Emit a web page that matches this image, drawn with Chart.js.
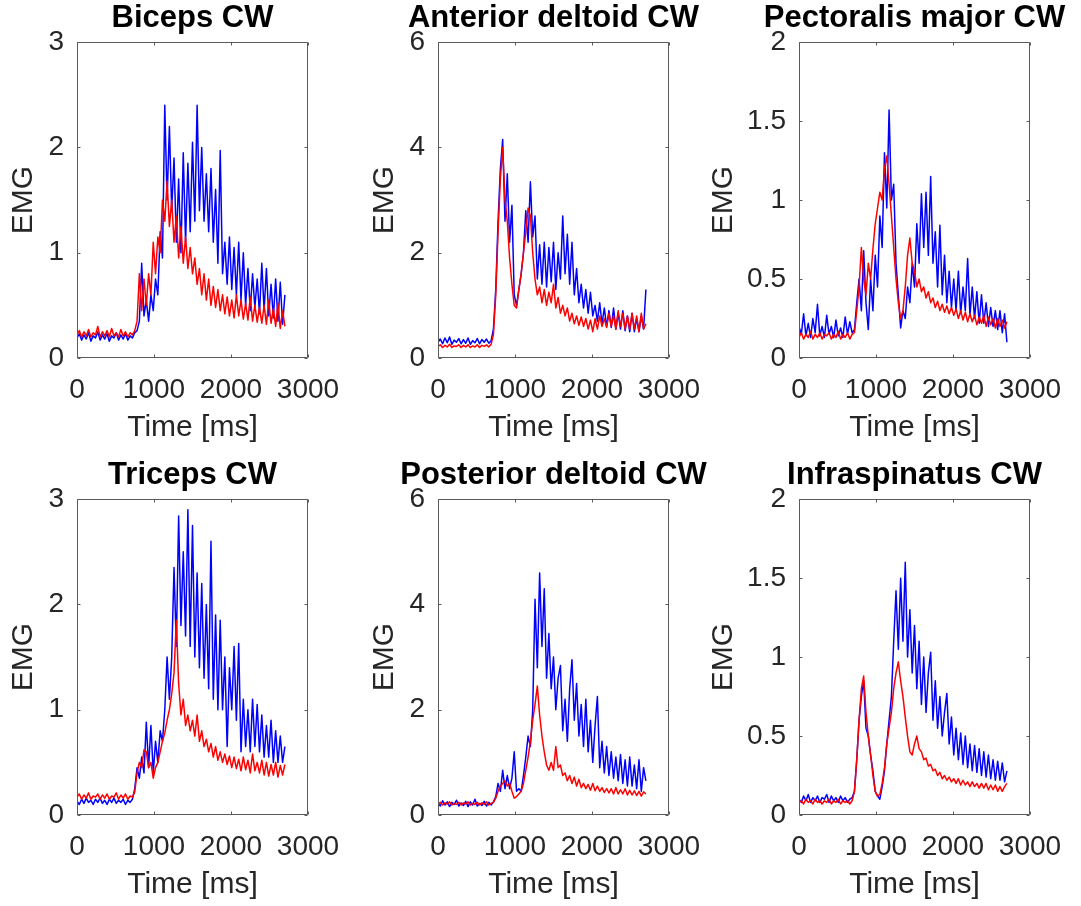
<!DOCTYPE html>
<html>
<head>
<meta charset="utf-8">
<script src="https://cdn.jsdelivr.net/npm/chart.js@4.4.1/dist/chart.umd.min.js"></script>
<style>
html, body { margin: 0; padding: 0; background: #fff; overflow: hidden; width: 1081px; height: 906px; }
canvas { position: absolute; }
</style>
</head>
<body>
<canvas id="emg0" width="385" height="450" style="left:0px;top:0px"></canvas>
<canvas id="emg1" width="385" height="450" style="left:361px;top:0px"></canvas>
<canvas id="emg2" width="429" height="450" style="left:700px;top:0px"></canvas>
<canvas id="emg3" width="385" height="450" style="left:0px;top:457px"></canvas>
<canvas id="emg4" width="385" height="450" style="left:361px;top:457px"></canvas>
<canvas id="emg5" width="429" height="450" style="left:700px;top:457px"></canvas>
<script>
// sample times (ms)
const timeMs = [
    0, 30, 60, 90, 120, 150, 180, 210, 240, 270,
    300, 330, 360, 390, 420, 450, 480, 510, 540, 570,
    600, 630, 660, 690, 720, 750, 780, 810, 840, 870,
    900, 930, 960, 990, 1020, 1050, 1080, 1110, 1140, 1170,
    1200, 1230, 1260, 1290, 1320, 1350, 1380, 1410, 1440, 1470,
    1500, 1530, 1560, 1590, 1620, 1650, 1680, 1710, 1740, 1770,
    1800, 1830, 1860, 1890, 1920, 1950, 1980, 2010, 2040, 2070,
    2100, 2130, 2160, 2190, 2220, 2250, 2280, 2310, 2340, 2370,
    2400, 2430, 2460, 2490, 2520, 2550, 2580, 2610, 2640, 2670,
    2700
];

const bicepsBlue = [
    0.19, 0.23, 0.17, 0.22, 0.18, 0.24, 0.16, 0.21, 0.19, 0.25,
    0.17, 0.22, 0.18, 0.23, 0.16, 0.21, 0.19, 0.24, 0.17, 0.22,
    0.18, 0.23, 0.17, 0.21, 0.19, 0.24, 0.26, 0.35, 0.9, 0.4,
    0.55, 0.35, 0.6, 0.45, 0.75, 0.6, 1.2, 0.95, 2.4, 1.5,
    2.2, 1.4, 1.9, 1.1, 1.7, 1.0, 1.95, 1.1, 1.85, 1.2,
    2.05, 1.3, 2.4, 1.4, 2.0, 1.3, 1.75, 1.2, 1.8, 1.1,
    1.6, 0.9, 1.97, 0.8, 1.1, 0.7, 1.15, 0.65, 1.05, 0.6,
    1.1, 0.55, 1.0, 0.5, 0.85, 0.45, 0.8, 0.48, 0.75, 0.42,
    0.9, 0.45, 0.85, 0.4, 0.7, 0.38, 0.75, 0.35, 0.72, 0.32,
    0.6
];
const bicepsRed = [
    0.22, 0.26, 0.2, 0.25, 0.21, 0.27, 0.2, 0.24, 0.22, 0.3,
    0.2, 0.25, 0.21, 0.26, 0.2, 0.28, 0.21, 0.24, 0.2, 0.27,
    0.21, 0.25, 0.2, 0.24, 0.22, 0.26, 0.35, 0.8, 0.45, 0.75,
    0.5, 0.8, 0.6, 1.1, 0.8, 1.15, 1.0, 1.5, 1.3, 1.68,
    1.25, 1.5, 1.1, 1.35, 0.95, 1.25, 0.9, 1.15, 0.85, 1.05,
    0.8, 0.95, 0.7, 0.85, 0.6, 0.8, 0.55, 0.75, 0.5, 0.68,
    0.48, 0.65, 0.45, 0.6, 0.42, 0.58, 0.4, 0.55, 0.38, 0.6,
    0.4, 0.55, 0.37, 0.52, 0.36, 0.58, 0.35, 0.5, 0.34, 0.48,
    0.33, 0.5, 0.32, 0.55, 0.33, 0.47, 0.3, 0.52, 0.28, 0.45,
    0.3
];

const antDeltoidBlue = [
    0.3, 0.36, 0.27, 0.38, 0.29, 0.4, 0.26, 0.34, 0.3, 0.37,
    0.27, 0.35, 0.28, 0.38, 0.26, 0.33, 0.29, 0.37, 0.27, 0.35,
    0.3, 0.36, 0.28, 0.33, 0.55, 1.3, 2.6, 3.6, 4.15, 2.6,
    3.5, 2.2, 2.9, 1.2, 1.0, 1.3, 1.6, 2.0, 2.8, 2.2,
    3.35, 2.3, 2.7, 1.5, 2.15, 1.4, 2.2, 1.35, 2.1, 1.45,
    2.2, 1.3, 2.0, 1.5, 2.7, 1.6, 2.35, 1.4, 2.2, 1.2,
    1.7, 1.05, 1.4, 0.95, 1.3, 0.85, 1.25, 0.8, 1.0, 0.7,
    1.05, 0.65, 0.95, 0.6, 0.9, 0.58, 0.95, 0.55, 0.85, 0.55,
    0.9, 0.52, 0.8, 0.5, 0.85, 0.5, 0.75, 0.5, 0.8, 0.55,
    1.3
];
const antDeltoidRed = [
    0.22, 0.25, 0.2, 0.24, 0.21, 0.26, 0.2, 0.23, 0.22, 0.25,
    0.2, 0.24, 0.21, 0.25, 0.2, 0.23, 0.21, 0.25, 0.2, 0.24,
    0.22, 0.25, 0.21, 0.26, 0.45, 1.2, 2.4, 3.4, 4.0, 3.0,
    2.6, 1.9, 1.4, 1.0, 0.95, 1.3, 1.6, 2.0, 2.4, 2.85,
    2.7, 2.0, 1.5, 1.2, 1.35, 1.05, 1.3, 1.0, 1.25, 1.05,
    1.4, 0.95, 1.15, 0.85, 1.0, 0.8, 0.95, 0.7, 0.85, 0.65,
    0.8, 0.62, 0.78, 0.6, 0.75, 0.55, 0.72, 0.5, 0.75, 0.55,
    0.8, 0.6, 0.75, 0.58, 0.85, 0.6, 0.8, 0.55, 0.9, 0.6,
    0.85, 0.55, 0.8, 0.55, 0.85, 0.55, 0.8, 0.5, 0.85, 0.55,
    0.65
];

const pectoralisBlue = [
    0.2, 0.15, 0.28, 0.14, 0.22, 0.13, 0.25, 0.16, 0.34, 0.14,
    0.2, 0.13, 0.27, 0.15, 0.2, 0.13, 0.24, 0.14, 0.19, 0.13,
    0.26, 0.15, 0.23, 0.16, 0.18, 0.35, 0.5, 0.3, 0.68, 0.35,
    0.18, 0.5, 0.3, 0.65, 0.45, 0.9, 0.7, 1.3, 0.95, 1.57,
    1.0, 1.1, 0.6, 0.4, 0.19, 0.3, 0.25, 0.45, 0.35, 0.6,
    0.45, 0.85, 0.6, 1.04, 0.7, 1.05, 0.65, 1.15, 0.6, 0.8,
    0.45, 0.84, 0.4, 0.65, 0.35, 0.55, 0.32, 0.5, 0.3, 0.55,
    0.28, 0.45, 0.3, 0.63, 0.27, 0.45, 0.25, 0.42, 0.22, 0.4,
    0.22, 0.35, 0.2, 0.32, 0.2, 0.3, 0.18, 0.3, 0.16, 0.28,
    0.1
];
const pectoralisRed = [
    0.13, 0.16, 0.12, 0.15, 0.13, 0.17, 0.12, 0.15, 0.13, 0.16,
    0.12, 0.15, 0.14, 0.16, 0.12, 0.15, 0.13, 0.17, 0.12, 0.15,
    0.13, 0.16, 0.12, 0.15, 0.16, 0.3, 0.45, 0.7, 0.5, 0.4,
    0.6, 0.5, 0.69, 0.85, 0.95, 1.05, 1.0, 1.2, 1.28, 1.1,
    0.9, 0.7, 0.5, 0.35, 0.25, 0.3, 0.45, 0.65, 0.76, 0.6,
    0.55, 0.45, 0.5, 0.42, 0.45, 0.38, 0.42, 0.35, 0.38, 0.32,
    0.36, 0.3, 0.34, 0.29, 0.33, 0.28, 0.32, 0.27, 0.31, 0.25,
    0.3, 0.24, 0.29, 0.23, 0.28, 0.23, 0.27, 0.21, 0.26, 0.22,
    0.27, 0.2, 0.26, 0.21, 0.25, 0.19, 0.25, 0.2, 0.24, 0.19,
    0.23
];

const tricepsBlue = [
    0.13, 0.1, 0.15, 0.11, 0.16, 0.12, 0.14, 0.1, 0.15, 0.12,
    0.16, 0.11, 0.14, 0.1, 0.15, 0.12, 0.16, 0.11, 0.14, 0.12,
    0.15, 0.1, 0.14, 0.12, 0.15, 0.25, 0.45, 0.35, 0.55, 0.4,
    0.88, 0.45, 0.85, 0.4, 0.7, 0.5, 0.8, 0.7, 1.0, 1.5,
    1.1, 1.5, 2.35, 1.6, 2.84, 1.8, 2.5, 1.7, 2.9, 1.6,
    2.75, 1.5, 2.3, 1.4, 2.2, 1.3, 2.0, 1.2, 2.6, 1.1,
    1.9, 1.0, 1.85, 1.0, 1.5, 0.65, 1.4, 1.0, 1.6, 0.9,
    1.63, 0.6, 1.1, 0.65, 1.0, 0.6, 1.1, 0.65, 1.05, 0.6,
    0.95, 0.55, 0.85, 0.55, 0.9, 0.5, 0.8, 0.5, 0.75, 0.5,
    0.65
];
const tricepsRed = [
    0.17, 0.2, 0.15, 0.19, 0.16, 0.21, 0.15, 0.18, 0.17, 0.2,
    0.15, 0.19, 0.16, 0.2, 0.15, 0.18, 0.17, 0.21, 0.15, 0.19,
    0.16, 0.2, 0.15, 0.18, 0.17, 0.22, 0.4, 0.5, 0.45, 0.62,
    0.6, 0.45, 0.5, 0.35, 0.45, 0.5, 0.6, 0.7, 0.78, 0.9,
    1.0, 1.15, 1.35, 1.85, 1.25, 0.95, 1.1, 0.85, 0.95, 0.8,
    0.9, 0.75, 0.95, 0.7, 0.8, 0.65, 0.72, 0.6, 0.68, 0.55,
    0.65, 0.52, 0.6, 0.5, 0.58, 0.48, 0.56, 0.45, 0.55, 0.44,
    0.53, 0.42, 0.55, 0.43, 0.52, 0.4, 0.58, 0.42, 0.5, 0.4,
    0.52, 0.38, 0.5, 0.37, 0.48, 0.38, 0.5, 0.36, 0.47, 0.38,
    0.48
];

const postDeltoidBlue = [
    0.22, 0.17, 0.27, 0.19, 0.25, 0.16, 0.24, 0.2, 0.28, 0.17,
    0.23, 0.18, 0.26, 0.16, 0.25, 0.19, 0.3, 0.17, 0.22, 0.18,
    0.26, 0.17, 0.24, 0.19, 0.25, 0.35, 0.6, 0.45, 0.85, 0.5,
    0.75, 0.5, 0.7, 1.2, 0.45, 0.5, 0.45, 0.75, 1.1, 1.5,
    1.3, 2.0, 4.1, 2.8, 4.6, 3.2, 4.3, 2.6, 3.45, 2.4,
    3.0, 2.0, 2.6, 2.84, 1.6, 2.2, 1.4, 2.4, 2.95, 1.8,
    2.5, 1.5, 2.1, 1.3, 2.2, 1.2, 1.8, 1.0, 1.7, 2.25,
    0.9, 1.4, 0.8, 1.3, 0.75, 1.2, 0.7, 1.1, 0.65, 1.15,
    0.6, 1.05, 0.55, 1.1, 0.55, 0.95, 0.5, 1.05, 0.45, 0.9,
    0.65
];
const postDeltoidRed = [
    0.2, 0.24, 0.19, 0.23, 0.21, 0.25, 0.19, 0.22, 0.2, 0.24,
    0.19, 0.23, 0.21, 0.25, 0.19, 0.22, 0.2, 0.24, 0.19, 0.23,
    0.2, 0.25, 0.19, 0.22, 0.24, 0.32, 0.45, 0.55, 0.6, 0.65,
    0.55, 0.6, 0.45, 0.32, 0.35, 0.4, 0.45, 0.6, 0.85, 1.1,
    1.4, 1.8, 2.1, 2.45, 1.9, 1.5, 1.2, 0.95, 0.85, 1.0,
    0.85, 1.3, 0.9, 0.95, 0.75, 0.8, 0.65, 0.75, 0.6, 0.72,
    0.55, 0.68, 0.52, 0.6, 0.5, 0.58, 0.47, 0.6, 0.46, 0.55,
    0.45, 0.52, 0.43, 0.5, 0.42, 0.5, 0.4, 0.52, 0.4, 0.48,
    0.4, 0.5, 0.38, 0.47, 0.38, 0.46, 0.37, 0.45, 0.36, 0.44,
    0.4
];

const infraspinatusBlue = [
    0.1, 0.08, 0.12, 0.09, 0.13, 0.08, 0.11, 0.09, 0.12, 0.08,
    0.11, 0.1, 0.13, 0.08, 0.12, 0.09, 0.11, 0.08, 0.12, 0.09,
    0.11, 0.08, 0.1, 0.11, 0.15, 0.35, 0.6, 0.75, 0.85, 0.55,
    0.5, 0.38, 0.28, 0.15, 0.12, 0.1, 0.18, 0.28, 0.45, 0.6,
    0.75, 1.1, 1.42, 1.05, 1.5, 1.1, 1.6, 1.0, 1.3, 0.9,
    1.2, 0.8, 1.1, 0.7, 1.0, 0.65, 0.9, 1.03, 0.6, 0.85,
    0.55, 0.75, 0.5, 0.65, 0.77, 0.45, 0.62, 0.38, 0.55, 0.35,
    0.52, 0.32, 0.5, 0.3, 0.45, 0.28, 0.44, 0.27, 0.42, 0.25,
    0.4, 0.24, 0.38, 0.23, 0.35, 0.22, 0.34, 0.22, 0.33, 0.21,
    0.28
];
const infraspinatusRed = [
    0.08, 0.09, 0.07, 0.1, 0.08, 0.09, 0.07, 0.1, 0.08, 0.09,
    0.07, 0.09, 0.08, 0.1, 0.07, 0.09, 0.08, 0.1, 0.07, 0.09,
    0.08, 0.09, 0.07, 0.09, 0.15, 0.35, 0.6, 0.8, 0.88, 0.65,
    0.5, 0.38, 0.25, 0.15, 0.12, 0.13, 0.2, 0.3, 0.45, 0.55,
    0.65, 0.8, 0.9, 0.97, 0.85, 0.75, 0.62, 0.5, 0.4, 0.38,
    0.45, 0.5, 0.42, 0.4, 0.35, 0.36, 0.31, 0.32, 0.28, 0.29,
    0.25, 0.27, 0.23, 0.25, 0.22, 0.24, 0.21, 0.23, 0.2, 0.23,
    0.19, 0.22, 0.19, 0.21, 0.18, 0.21, 0.18, 0.2, 0.17, 0.2,
    0.17, 0.2, 0.16, 0.19, 0.16, 0.19, 0.15, 0.18, 0.15, 0.18,
    0.2
];

const panelTitles = ['Biceps CW', 'Anterior deltoid CW', 'Pectoralis major CW',
                     'Triceps CW', 'Posterior deltoid CW', 'Infraspinatus CW'];
const blueSeries = [bicepsBlue, antDeltoidBlue, pectoralisBlue, tricepsBlue, postDeltoidBlue, infraspinatusBlue];
const redSeries = [bicepsRed, antDeltoidRed, pectoralisRed, tricepsRed, postDeltoidRed, infraspinatusRed];
const yMax = [3, 6, 2, 3, 6, 2];
const yStep = [1, 2, 0.5, 1, 2, 0.5];

// layout: width of y-axis area on left (mirrored on right so the title centres over the plot)
const yAxisWidth = [77, 77, 99, 77, 77, 99];

Chart.defaults.font.family = "'Liberation Sans', Arial, sans-serif";
Chart.defaults.color = '#262626';

// plain numbers, no thousands separator, no trailing zeros
const plainTick = (value) => String(Math.round(value * 100) / 100);

// MATLAB style box with inward ticks
const matlabBox = {
    id: 'matlabBox',
    afterDraw(chart) {
        const {ctx, chartArea: a, scales} = chart;
        const L = Math.round(a.left) + 0.5, R = Math.round(a.right) - 0.5;
        const T = Math.round(a.top) + 0.5, B = Math.round(a.bottom) - 0.5;
        const len = 3;
        ctx.save();
        ctx.strokeStyle = '#5a5a5a';
        ctx.lineWidth = 1;
        ctx.beginPath();
        ctx.rect(L, T, R - L, B - T);
        scales.x.ticks.forEach(t => {
            const px = Math.round(scales.x.getPixelForValue(t.value)) + 0.5;
            ctx.moveTo(px, B); ctx.lineTo(px, B - len);
            ctx.moveTo(px, T); ctx.lineTo(px, T + len);
        });
        scales.y.ticks.forEach(t => {
            const py = Math.round(scales.y.getPixelForValue(t.value)) + 0.5;
            ctx.moveTo(L, py); ctx.lineTo(L + len, py);
            ctx.moveTo(R, py); ctx.lineTo(R - len, py);
        });
        ctx.stroke();
        ctx.restore();
    }
};

const toPoints = (values) => values.map((v, i) => ({x: timeMs[i], y: v}));

panelTitles.forEach((title, k) => {
    const canvas = document.getElementById('emg' + k);
    const yw = yAxisWidth[k];
    new Chart(canvas, {
        type: 'line',
        data: {
            datasets: [{
                data: toPoints(redSeries[k]),
                borderColor: '#ff0000',
                borderWidth: 1.5,
                borderJoinStyle: 'round',
                pointRadius: 0,
                tension: 0,
                order: 0
            }, {
                data: toPoints(blueSeries[k]),
                borderColor: '#0000ff',
                borderWidth: 1.5,
                borderJoinStyle: 'round',
                pointRadius: 0,
                tension: 0,
                order: 1
            }]
        },
        options: {
            responsive: false,
            animation: false,
            events: [],
            layout: { padding: 0 },
            plugins: {
                legend: { display: false },
                tooltip: { enabled: false },
                title: {
                    display: true,
                    text: title,
                    color: '#000000',
                    font: { size: 31, weight: 'bold' },
                    padding: { top: 0, bottom: 5 }
                }
            },
            scales: {
                x: {
                    type: 'linear',
                    min: 0,
                    max: 3000,
                    ticks: { stepSize: 1000, padding: 15, maxRotation: 0, font: { size: 28 }, callback: plainTick },
                    grid: { display: false, drawTicks: false },
                    border: { display: false },
                    title: { display: true, text: 'Time [ms]', font: { size: 30 }, padding: { top: 0, bottom: 4 } },
                    afterFit(scale) { scale.height = 92; }
                },
                y: {
                    min: 0,
                    max: yMax[k],
                    ticks: { stepSize: yStep[k], padding: 13, font: { size: 28 }, callback: plainTick },
                    grid: { display: false, drawTicks: false },
                    border: { display: false },
                    title: { display: true, text: 'EMG', font: { size: 30 }, padding: { top: 6, bottom: 0 } },
                    afterFit(scale) { scale.width = yw; }
                },
                yRight: {
                    position: 'right',
                    min: 0,
                    max: 1,
                    ticks: { display: false },
                    grid: { display: false, drawTicks: false },
                    border: { display: false },
                    afterFit(scale) { scale.width = yw; }
                }
            }
        },
        plugins: [matlabBox]
    });
});
</script>
</body>
</html>
